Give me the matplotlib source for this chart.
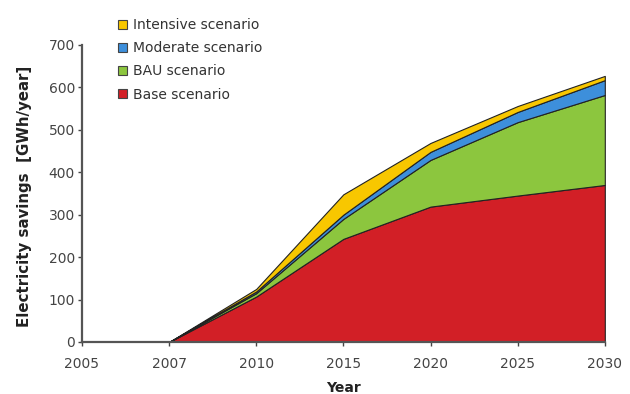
import matplotlib
matplotlib.use("Agg")
import matplotlib.pyplot as plt
from matplotlib.patches import Patch
import numpy as np

# years on a category axis (equal spacing)
years = ["2005", "2007", "2010", "2015", "2020", "2025", "2030"]

# stacked layers (GWh/year)
base = [0, 0, 107, 243, 319, 345, 370]
bau = [0, 0, 8, 47, 110, 173, 212]          # total 115, 290, 429, 518, 582
moderate = [0, 0, 4, 10, 19, 24, 35]        # total 119, 300, 448, 542, 617
intensive = [0, 0, 6, 48, 21, 14, 10]       # total 125, 348, 469, 556, 627

labels = ["Base scenario", "BAU scenario", "Moderate scenario", "Intensive scenario"]
colors = ["#d21f26", "#8cc63e", "#3d8fdb", "#f8c700"]

x = np.arange(len(years))

fig = plt.figure(figsize=(6.3, 3.94), dpi=100)
ax = fig.add_axes([0.130, 0.132, 0.830, 0.754])

ax.stackplot(x, base, bau, moderate, intensive, colors=colors,
             edgecolor="#222222", linewidth=0.8)
ax.plot(x[:2], [0, 0], color="#222222", lw=1.2)

ax.set_xlim(0, len(years) - 1)
ax.set_ylim(0, 700)
ax.set_xticks(x)
ax.set_xticklabels(years)
ax.set_yticks(np.arange(0, 701, 100))

for s in ["top", "right"]:
    ax.spines[s].set_visible(False)
for s in ["left", "bottom"]:
    ax.spines[s].set_color("#555555")
    ax.spines[s].set_linewidth(1.6)
ax.tick_params(axis="both", labelsize=10, colors="#444444", length=3, width=1)
ax.tick_params(axis="x", pad=8)
ax.tick_params(axis="y", pad=2)

ax.set_xlabel("Year", fontsize=10, fontweight="bold", color="#222222", labelpad=7)
ax.set_ylabel("Electricity savings  [GWh/year]", fontsize=10.8, fontweight="bold",
              color="#222222")
ax.yaxis.set_label_coords(-0.096, 0.49)

handles = [Patch(facecolor=c, edgecolor="#444444", linewidth=0.8) for c in colors]
leg = fig.legend(handles[::-1], labels[::-1], loc="upper left",
                 bbox_to_anchor=(0.178, 0.968), frameon=False, fontsize=10,
                 handlelength=0.65, handleheight=0.65, handletextpad=0.45,
                 labelspacing=0.66, borderaxespad=0)
for t in leg.get_texts():
    t.set_color("#333333")

fig.savefig("out.png", dpi=100)
